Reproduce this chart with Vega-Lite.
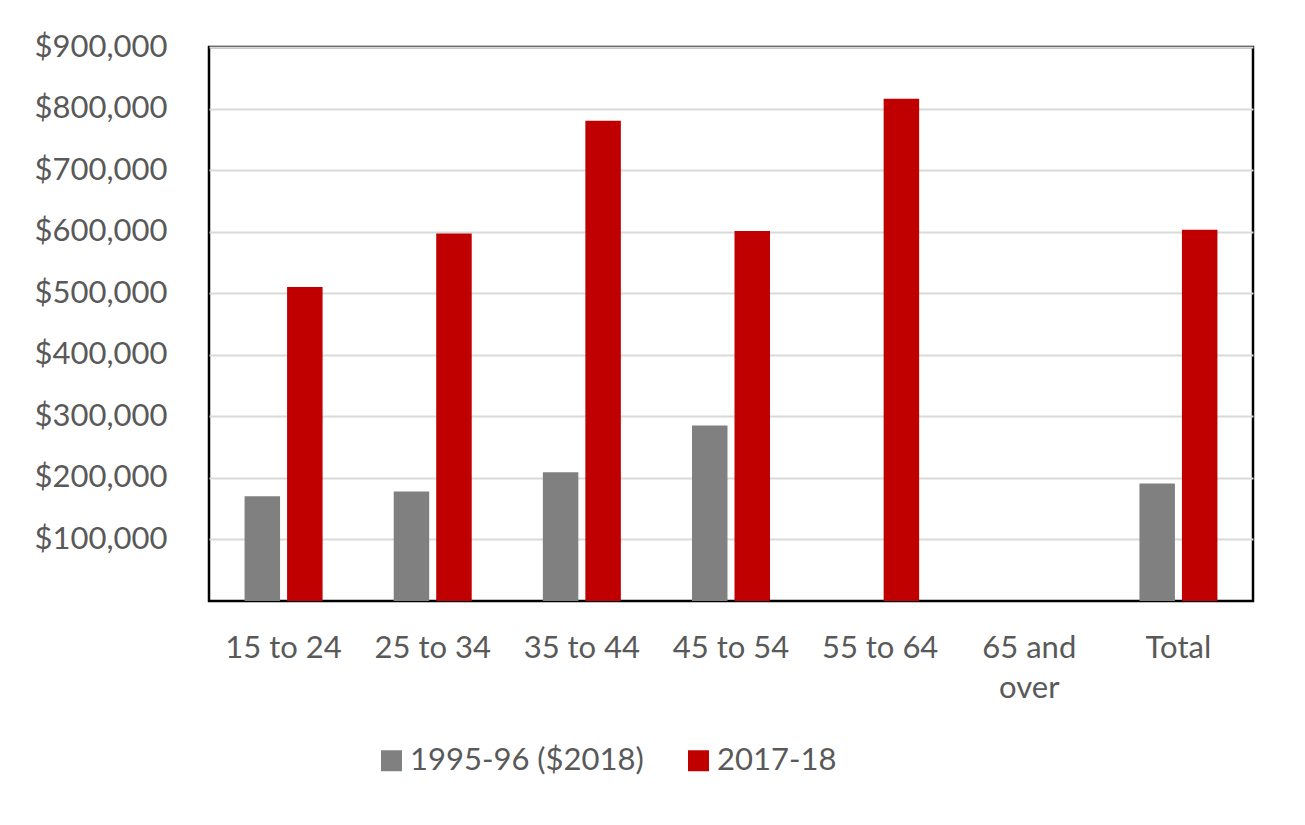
{
  "$schema": "https://vega.github.io/schema/vega-lite/v6.json",
  "autosize": {"type": "none"},
  "width": 1044,
  "height": 554,
  "padding": {"left": 209, "top": 47, "right": 52, "bottom": 224},
  "background": "white",
  "data": {
    "values": [
      {"age": "15 to 24", "series": "1995-96 ($2018)", "value": 170000},
      {"age": "15 to 24", "series": "2017-18", "value": 510000},
      {"age": "25 to 34", "series": "1995-96 ($2018)", "value": 178000},
      {"age": "25 to 34", "series": "2017-18", "value": 597000},
      {"age": "35 to 44", "series": "1995-96 ($2018)", "value": 209000},
      {"age": "35 to 44", "series": "2017-18", "value": 780000},
      {"age": "45 to 54", "series": "1995-96 ($2018)", "value": 285000},
      {"age": "45 to 54", "series": "2017-18", "value": 601000},
      {"age": "55 to 64", "series": "2017-18", "value": 816000},
      {"age": "Total", "series": "1995-96 ($2018)", "value": 191000},
      {"age": "Total", "series": "2017-18", "value": 603000}
    ]
  },
  "mark": {"type": "bar"},
  "encoding": {
    "x": {
      "field": "age",
      "type": "nominal",
      "sort": ["15 to 24", "25 to 34", "35 to 44", "45 to 54", "55 to 64", "65 and over", "Total"],
      "scale": {"domain": ["15 to 24", "25 to 34", "35 to 44", "45 to 54", "55 to 64", "65 and over", "Total"], "paddingInner": 0.477, "paddingOuter": 0.2385},
      "axis": {
        "title": null,
        "labelAngle": 0,
        "labelFont": "Lato",
        "labelFontSize": 31,
        "labelColor": "#595959",
        "labelPadding": 32,
        "labelLineHeight": 40,
        "labelBaseline": "top",
        "labelLimit": 0,
        "labelExpr": "datum.label == '65 and over' ? ['65 and', 'over'] : datum.label",
        "ticks": false,
        "domain": false,
        "grid": false
      }
    },
    "xOffset": {
      "field": "series",
      "type": "nominal",
      "sort": ["1995-96 ($2018)", "2017-18"],
      "scale": {"paddingInner": 0.165, "paddingOuter": 0}
    },
    "y": {
      "field": "value",
      "type": "quantitative",
      "scale": {"domain": [0, 900000], "nice": false},
      "axis": {
        "title": null,
        "values": [100000, 200000, 300000, 400000, 500000, 600000, 700000, 800000, 900000],
        "format": "$,.0f",
        "labelFont": "Lato",
        "labelFontSize": 31,
        "labelColor": "#595959",
        "labelPadding": 42,
        "labelLimit": 0,
        "ticks": false,
        "domain": false,
        "grid": true,
        "gridColor": "#d9d9d9",
        "gridWidth": 2
      }
    },
    "color": {
      "field": "series",
      "type": "nominal",
      "sort": ["1995-96 ($2018)", "2017-18"],
      "scale": {"domain": ["1995-96 ($2018)", "2017-18"], "range": ["#808080", "#C00000"]},
      "legend": {
        "title": null,
        "orient": "none",
        "direction": "horizontal",
        "legendX": 167,
        "legendY": 698,
        "symbolType": "square",
        "symbolSize": 441,
        "symbolStrokeWidth": 0,
        "symbolOpacity": 1,
        "labelFont": "Lato",
        "labelFontSize": 31,
        "labelColor": "#595959",
        "labelOffset": 3,
        "labelLimit": 0,
        "columnPadding": 39,
        "padding": 0
      }
    }
  },
  "config": {
    "view": {"stroke": "#000000", "strokeWidth": 2.5}
  }
}
